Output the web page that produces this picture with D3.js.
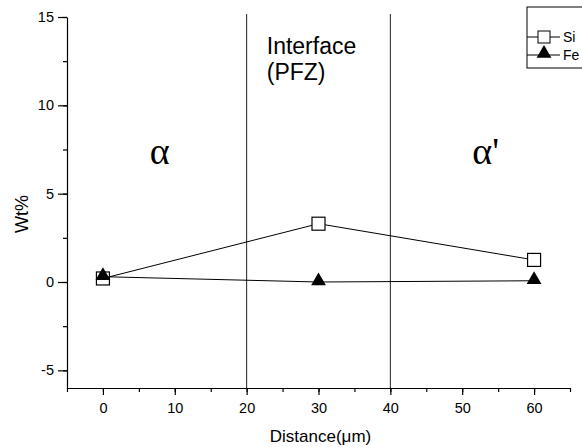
<!DOCTYPE html>
<html>
<head>
<meta charset="utf-8">
<script src="https://cdn.jsdelivr.net/npm/d3@7"></script>
<style>
  body { margin: 0; background: #fff; }
</style>
</head>
<body>
<div id="chart"></div>
<script>
// data
const distance = [0, 30, 60];
const si = [0.2, 3.3, 1.25];
const fe = [0.3, 0.0, 0.07];
const boundaries = [20, 40];
const xTicks = [0, 10, 20, 30, 40, 50, 60];
const yTicks = [-5, 0, 5, 10, 15];

const SANS = "'Liberation Sans', Arial, sans-serif";
const SERIF = "'Liberation Serif', 'Times New Roman', serif";

const W = 582, H = 447;
const margin = {top: 17, right: 12, bottom: 59, left: 67};
const width = W - margin.left - margin.right;
const height = H - margin.top - margin.bottom;

const svg = d3.select("#chart").append("svg")
    .attr("width", W)
    .attr("height", H)
    .style("font-family", SANS);

const g = svg.append("g")
    .attr("transform", `translate(${margin.left},${margin.top})`);

// scales
const x = d3.scaleLinear().domain([-5, 65]).range([0, width]);
const y = d3.scaleLinear().domain([-6, 15]).range([height, 0]);

// minor ticks first
g.append("g")
    .attr("transform", `translate(0,${height})`)
    .call(d3.axisBottom(x).tickValues(d3.range(-5, 66, 5)).tickSize(4).tickFormat(""))
    .call(a => a.select(".domain").remove());
g.append("g")
    .call(d3.axisLeft(y).tickValues(d3.range(-5, 15.1, 2.5)).tickSize(4).tickFormat(""))
    .call(a => a.select(".domain").remove());

// main axes
const xAxis = g.append("g")
    .attr("transform", `translate(0,${height})`)
    .call(d3.axisBottom(x).tickValues(xTicks).tickSize(7).tickPadding(8)
        .tickSizeOuter(0).tickFormat(d => String(d)));

const yAxis = g.append("g")
    .call(d3.axisLeft(y).tickValues(yTicks).tickSize(9).tickPadding(4)
        .tickSizeOuter(0).tickFormat(d => String(d)));

g.selectAll(".tick text")
    .style("font-family", SANS)
    .style("font-size", "14.5px")
    .attr("fill", "#000");
g.selectAll(".domain, .tick line").attr("stroke", "#000").attr("stroke-width", 1.2);

// axis titles
svg.append("text")
    .attr("x", margin.left + x(30) + 2)
    .attr("y", 442)
    .attr("text-anchor", "middle")
    .style("font-size", "17px")
    .text("Distance(\u03bcm)");

svg.append("text")
    .attr("transform", `translate(28,214) rotate(-90)`)
    .attr("text-anchor", "middle")
    .style("font-size", "18px")
    .text("Wt%");

// region boundaries
g.selectAll(".boundary")
    .data(boundaries)
    .join("line")
    .attr("class", "boundary")
    .attr("x1", d => x(d)).attr("x2", d => x(d))
    .attr("y1", -3).attr("y2", height)
    .attr("stroke", "#222")
    .attr("stroke-width", 1);

// region labels
g.append("text")
    .attr("x", x(22.8)).attr("y", y(12.9))
    .style("font-size", "23px")
    .text("Interface");
g.append("text")
    .attr("x", x(22.8)).attr("y", y(11.45))
    .style("font-size", "23px")
    .text("(PFZ)");

g.append("text")
    .attr("x", x(6.5)).attr("y", y(6.7))
    .style("font-family", SERIF)
    .style("font-size", "38px")
    .text("\u03b1");
g.append("text")
    .attr("x", x(51.4)).attr("y", y(6.7))
    .style("font-family", SERIF)
    .style("font-size", "38px")
    .text("\u03b1'");

// series
const pts = vals => vals.map((v, i) => [distance[i], v]);
const line = d3.line().x(d => x(d[0])).y(d => y(d[1]));

const sq = 13;
const tri = d3.symbol().type(d3.symbolTriangle).size(95);

g.append("path")
    .attr("d", line(pts(si)))
    .attr("fill", "none")
    .attr("stroke", "#000")
    .attr("stroke-width", 1);

g.selectAll(".si")
    .data(pts(si))
    .join("rect")
    .attr("class", "si")
    .attr("x", d => x(d[0]) - sq / 2)
    .attr("y", d => y(d[1]) - sq / 2)
    .attr("width", sq).attr("height", sq)
    .attr("fill", "#fff")
    .attr("stroke", "#000")
    .attr("stroke-width", 1.2);

g.append("path")
    .attr("d", line(pts(fe)))
    .attr("fill", "none")
    .attr("stroke", "#000")
    .attr("stroke-width", 1);

g.selectAll(".fe")
    .data(pts(fe))
    .join("path")
    .attr("class", "fe")
    .attr("transform", d => `translate(${x(d[0])},${y(d[1]) - 1})`)
    .attr("d", tri)
    .attr("fill", "#000");

// legend
const lg = svg.append("g").attr("transform", "translate(527,7)");
lg.append("rect")
    .attr("x", 0).attr("y", 0)
    .attr("width", 70).attr("height", 61)
    .attr("fill", "#fff")
    .attr("stroke", "#000")
    .attr("stroke-width", 1);

lg.append("line").attr("x1", 0).attr("x2", 33).attr("y1", 30).attr("y2", 30).attr("stroke", "#000");
lg.append("rect").attr("x", 11).attr("y", 24).attr("width", 12).attr("height", 12)
    .attr("fill", "#fff").attr("stroke", "#000");
lg.append("text").attr("x", 36).attr("y", 35).style("font-size", "14px").text("Si");

lg.append("line").attr("x1", 0).attr("x2", 33).attr("y1", 48).attr("y2", 48).attr("stroke", "#000");
lg.append("path").attr("transform", "translate(17,46.5)").attr("d", tri).attr("fill", "#000");
lg.append("text").attr("x", 36).attr("y", 53).style("font-size", "14px").text("Fe");
</script>
</body>
</html>
